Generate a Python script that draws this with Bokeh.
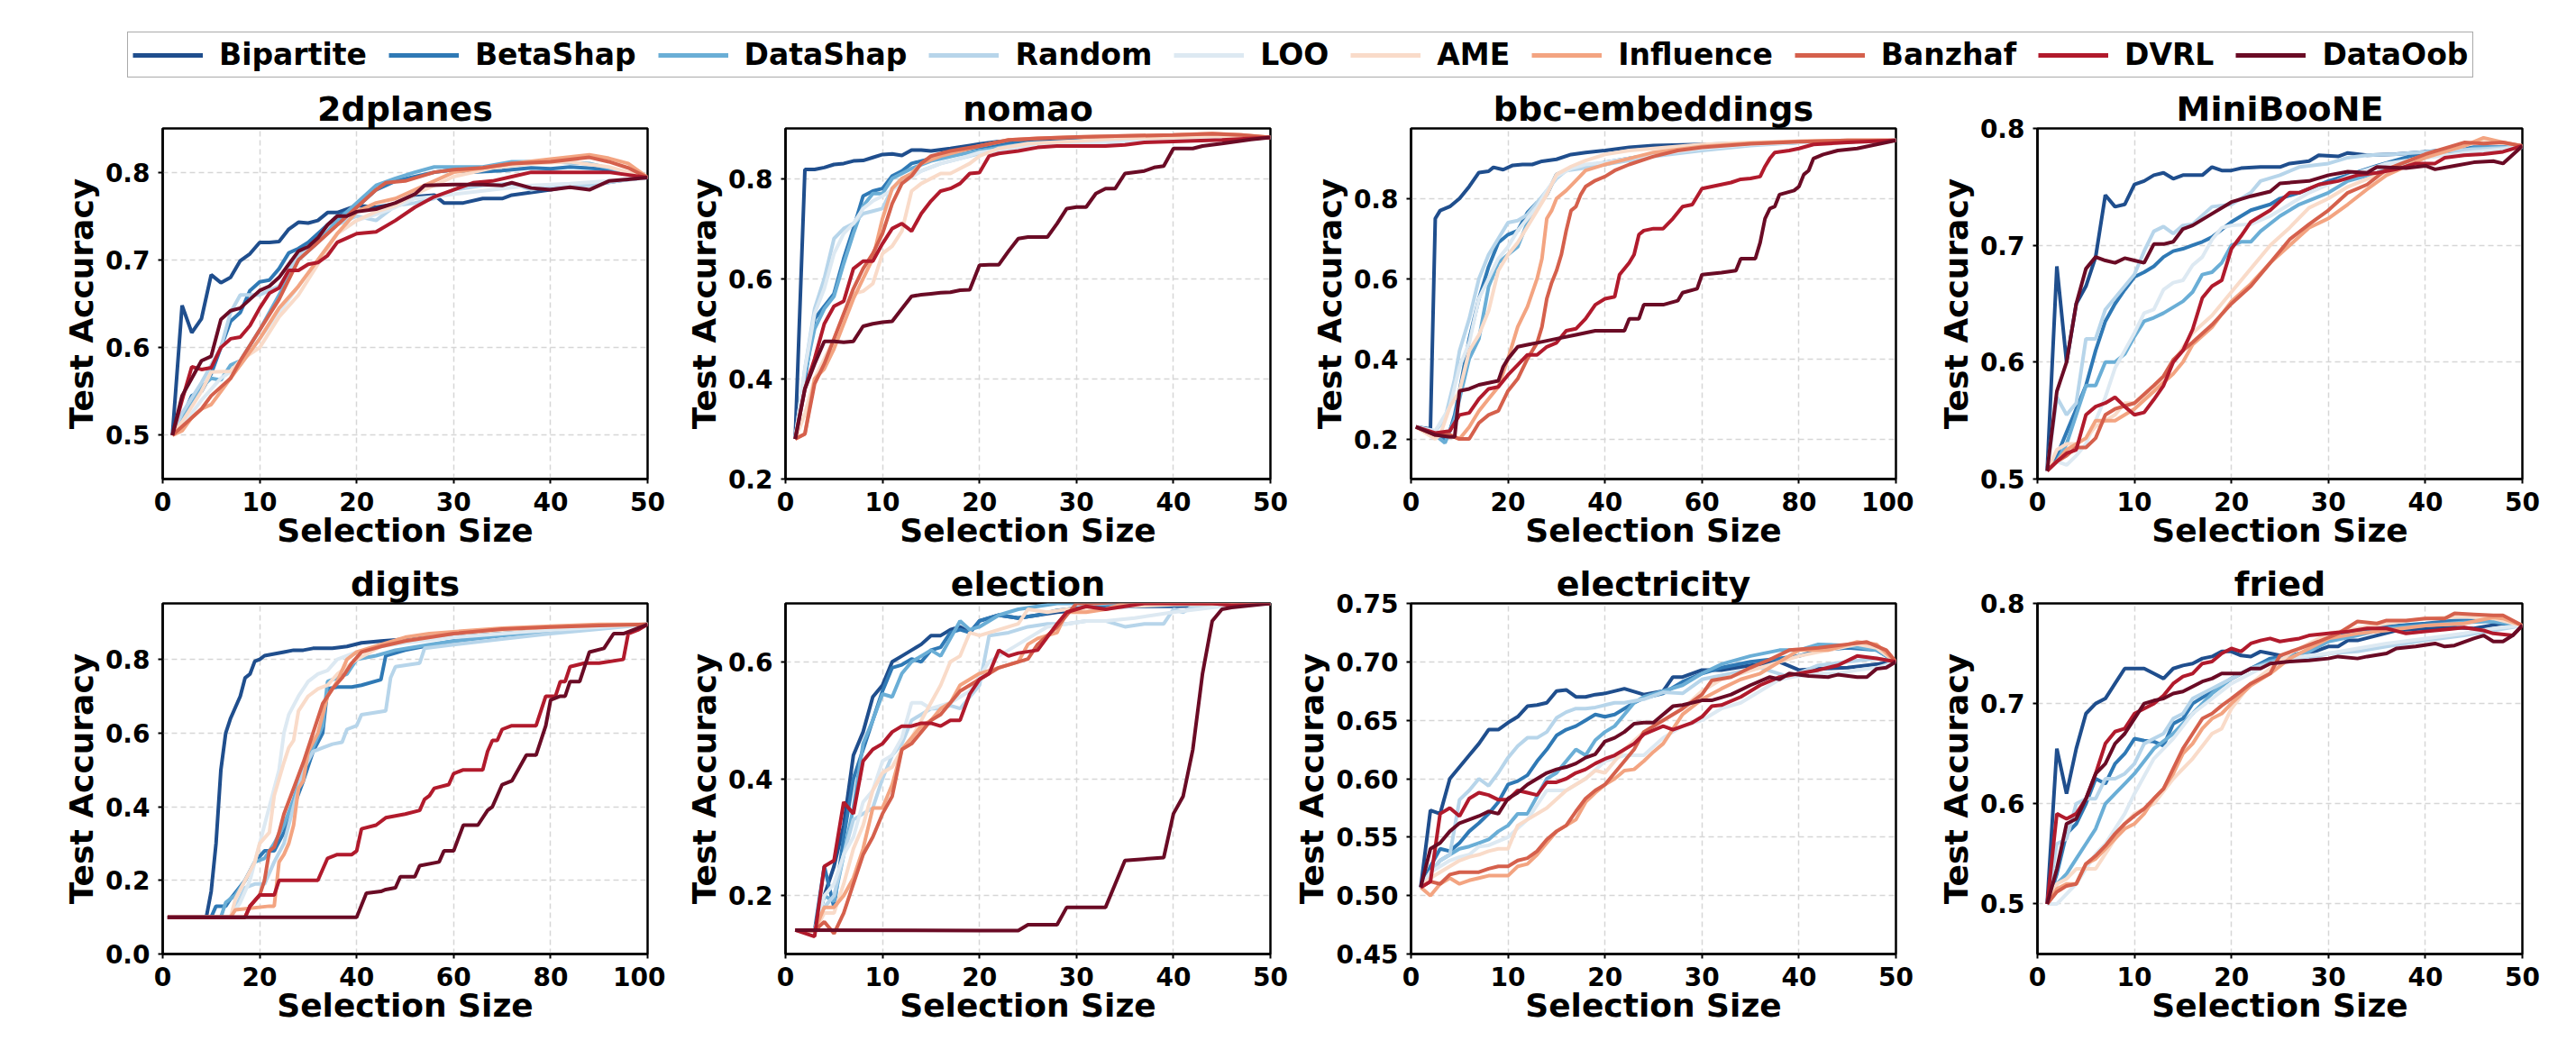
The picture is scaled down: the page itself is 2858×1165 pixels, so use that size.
from bokeh.plotting import figure
from bokeh.models import (Range1d, FixedTicker, PrintfTickFormatter, Legend, LegendItem,
                          Row, Column)
from bokeh.embed import file_html
from bokeh.resources import INLINE

METHODS = ["Bipartite", "BetaShap", "DataShap", "Random", "LOO", "AME",
           "Influence", "Banzhaf", "DVRL", "DataOob"]
COLORS = ["#1f4e8d", "#2f79b5", "#6aaed6", "#b7d5ea", "#dde9f2", "#f9dbc9",
          "#f3a481", "#d5604c", "#b11a2c", "#6a0b25"]

PLANES = {
    "Bipartite": [(1,.50),(2,.648),(3,.617),(4,.633),(5,.683),(6,.674),(7,.68),(8,.699),(9,.707),(10,.72),(11,.72),(12,.721),(13,.735),(14,.743),(15,.742),(16,.745),(17,.754),(18,.754),(20,.762),(22,.76),(24,.764),(26,.772),(28,.774),(29,.765),(31,.765),(33,.77),(35,.77),(36,.774),(38,.777),(40,.78),(42,.784),(45,.787),(48,.792),(50,.794)],
    "BetaShap": [(1,.5),(2,.52),(3,.545),(4,.55),(5,.57),(6,.60),(7,.63),(8,.64),(9,.665),(10,.675),(11,.677),(12,.69),(13,.708),(14,.713),(15,.72),(16,.73),(18,.75),(20,.76),(22,.78),(24,.79),(26,.795),(28,.80),(30,.803),(32,.80),(35,.802),(38,.805),(40,.804),(42,.806),(45,.804),(48,.798),(50,.794)],
    "DataShap": [(1,.5),(2,.52),(3,.535),(4,.555),(5,.565),(6,.563),(7,.58),(8,.585),(10,.62),(12,.66),(14,.70),(16,.72),(18,.745),(20,.765),(22,.785),(24,.793),(26,.80),(28,.806),(30,.806),(33,.806),(36,.812),(40,.812),(44,.81),(47,.802),(50,.794)],
    "Random": [(1,.5),(2,.525),(4,.56),(6,.60),(7,.64),(8,.66),(10,.66),(12,.67),(14,.705),(16,.72),(18,.74),(20,.75),(22,.745),(24,.762),(26,.765),(28,.77),(30,.78),(33,.785),(36,.787),(38,.78),(40,.785),(44,.785),(47,.79),(50,.794)],
    "LOO": [(1,.5),(2,.51),(4,.54),(6,.565),(8,.58),(10,.61),(12,.64),(14,.67),(16,.70),(18,.73),(20,.745),(22,.752),(24,.76),(26,.77),(28,.772),(30,.775),(34,.78),(38,.785),(42,.787),(46,.79),(50,.794)],
    "AME": [(1,.5),(2,.515),(4,.55),(5,.572),(7,.573),(8,.585),(10,.60),(12,.635),(14,.66),(16,.695),(18,.73),(20,.745),(22,.755),(24,.762),(26,.775),(28,.785),(30,.795),(34,.805),(38,.81),(42,.812),(46,.806),(50,.794)],
    "Influence": [(1,.5),(2,.505),(3,.52),(4,.53),(5,.535),(6,.55),(8,.58),(10,.61),(12,.645),(14,.67),(16,.70),(18,.73),(20,.755),(22,.765),(24,.77),(26,.78),(28,.79),(30,.80),(33,.805),(36,.81),(40,.815),(44,.82),(46,.816),(48,.81),(50,.794)],
    "Banzhaf": [(1,.5),(2,.51),(3,.52),(4,.53),(5,.545),(6,.555),(7,.565),(8,.585),(10,.62),(12,.655),(14,.70),(16,.72),(18,.74),(20,.76),(22,.78),(23,.788),(25,.79),(28,.80),(30,.803),(33,.805),(36,.81),(40,.812),(44,.817),(46,.812),(48,.805),(50,.794)],
    "DVRL": [(1,.5),(2,.54),(3,.578),(4,.575),(5,.577),(6,.60),(7,.61),(8,.612),(9,.625),(10,.645),(11,.662),(12,.668),(13,.688),(14,.688),(15,.695),(16,.697),(17,.705),(18,.72),(19,.725),(20,.73),(22,.732),(24,.745),(26,.76),(28,.772),(30,.78),(32,.788),(34,.79),(36,.795),(38,.80),(40,.80),(42,.80),(46,.80),(50,.794)],
    "DataOob": [(1,.5),(2,.545),(3,.565),(4,.585),(5,.59),(6,.632),(7,.642),(8,.645),(9,.655),(10,.665),(11,.67),(12,.68),(13,.695),(14,.71),(15,.715),(16,.725),(17,.74),(18,.75),(19,.75),(20,.755),(22,.758),(24,.765),(26,.775),(27,.785),(30,.786),(33,.786),(35,.785),(36,.788),(38,.782),(40,.78),(42,.783),(44,.78),(46,.79),(48,.792),(50,.794)],
}

NOMAO = {
    "Bipartite": [(1,.28),(2,.818),(3,.818),(4,.822),(5,.828),(6,.83),(7,.835),(8,.836),(9,.842),(10,.848),(11,.849),(12,.846),(13,.857),(14,.857),(15,.855),(17,.86),(19,.866),(20,.869),(22,.874),(25,.876),(30,.877),(35,.877),(40,.878),(45,.879),(50,.882)],
    "BetaShap": [(1,.28),(2,.40),(3,.52),(4,.545),(5,.57),(6,.64),(7,.70),(8,.765),(9,.775),(10,.78),(11,.805),(12,.815),(13,.83),(14,.835),(16,.845),(18,.855),(20,.862),(23,.87),(26,.872),(30,.873),(35,.873),(40,.877),(45,.878),(50,.882)],
    "DataShap": [(1,.28),(2,.41),(3,.50),(4,.54),(5,.565),(6,.63),(7,.69),(8,.745),(9,.77),(10,.77),(11,.80),(12,.81),(13,.82),(15,.835),(18,.848),(20,.855),(23,.865),(26,.87),(30,.873),(35,.875),(40,.877),(45,.879),(50,.882)],
    "Random": [(1,.28),(2,.42),(3,.54),(4,.60),(5,.68),(6,.70),(7,.71),(8,.73),(9,.735),(10,.74),(11,.78),(12,.80),(14,.815),(16,.83),(18,.84),(20,.85),(23,.86),(26,.868),(30,.872),(35,.875),(40,.877),(45,.879),(50,.882)],
    "LOO": [(1,.28),(2,.42),(3,.53),(4,.58),(5,.65),(6,.69),(7,.71),(8,.74),(9,.755),(10,.765),(12,.79),(14,.815),(16,.83),(18,.84),(20,.852),(23,.86),(26,.866),(30,.87),(35,.874),(40,.877),(45,.879),(50,.882)],
    "AME": [(1,.28),(2,.33),(3,.40),(4,.44),(5,.48),(6,.53),(7,.57),(8,.575),(9,.59),(10,.65),(11,.665),(12,.695),(13,.775),(14,.79),(16,.81),(17,.81),(18,.82),(19,.83),(20,.845),(22,.86),(25,.87),(30,.875),(35,.88),(40,.882),(45,.885),(50,.882)],
    "Influence": [(1,.28),(2,.29),(3,.40),(4,.42),(5,.46),(6,.51),(7,.56),(8,.60),(9,.64),(10,.72),(11,.78),(12,.80),(13,.81),(14,.83),(16,.845),(18,.855),(20,.865),(23,.877),(26,.88),(30,.883),(35,.885),(40,.887),(44,.89),(47,.887),(50,.882)],
    "Banzhaf": [(1,.28),(2,.29),(3,.39),(4,.43),(5,.48),(6,.53),(7,.58),(8,.62),(9,.65),(10,.69),(11,.75),(12,.79),(13,.805),(14,.83),(15,.845),(17,.855),(20,.865),(23,.877),(26,.88),(30,.883),(35,.885),(40,.887),(44,.889),(47,.887),(50,.882)],
    "DVRL": [(1,.28),(2,.38),(3,.44),(4,.51),(5,.545),(6,.555),(7,.62),(8,.635),(9,.635),(10,.67),(11,.70),(12,.71),(13,.695),(14,.73),(15,.755),(16,.775),(17,.78),(18,.79),(19,.81),(20,.812),(21,.845),(22,.85),(24,.855),(26,.862),(28,.865),(30,.865),(33,.865),(35,.867),(37,.872),(40,.874),(45,.877),(50,.882)],
    "DataOob": [(1,.28),(2,.38),(3,.43),(4,.475),(5,.475),(6,.473),(7,.475),(8,.505),(9,.51),(10,.513),(11,.515),(12,.54),(13,.565),(14,.568),(15,.57),(16,.572),(17,.573),(18,.577),(19,.578),(20,.627),(21,.628),(22,.628),(23,.655),(24,.68),(25,.683),(27,.683),(28,.71),(29,.74),(30,.743),(31,.743),(32,.77),(33,.78),(34,.78),(35,.81),(37,.815),(38,.822),(39,.825),(40,.86),(42,.86),(43,.865),(45,.87),(48,.878),(50,.882)],
}

BBC = {
    "Bipartite": [(1,.23),(4,.225),(5,.75),(6,.77),(8,.78),(10,.80),(12,.83),(14,.865),(16,.868),(17,.878),(19,.872),(21,.883),(23,.885),(25,.885),(27,.893),(30,.898),(33,.91),(36,.915),(40,.92),(45,.928),(50,.932),(60,.935),(70,.938),(80,.94),(90,.942),(100,.945)],
    "BetaShap": [(1,.23),(4,.22),(6,.21),(7,.195),(8,.22),(9,.26),(10,.32),(12,.45),(14,.55),(16,.63),(18,.69),(20,.71),(22,.72),(24,.765),(26,.79),(28,.81),(30,.86),(32,.87),(35,.88),(40,.89),(45,.90),(50,.91),(60,.93),(70,.938),(80,.94),(90,.942),(100,.945)],
    "DataShap": [(1,.23),(5,.21),(7,.19),(9,.25),(10,.30),(12,.40),(14,.45),(16,.58),(18,.64),(20,.66),(22,.68),(24,.74),(26,.785),(28,.81),(30,.86),(33,.875),(36,.88),(40,.885),(45,.90),(50,.91),(60,.925),(70,.935),(80,.94),(90,.942),(100,.945)],
    "Random": [(1,.23),(5,.22),(7,.25),(9,.35),(10,.42),(12,.50),(14,.60),(16,.66),(18,.70),(20,.74),(22,.745),(24,.76),(26,.79),(28,.82),(30,.85),(32,.87),(35,.875),(40,.885),(45,.895),(50,.905),(60,.92),(70,.932),(80,.94),(90,.942),(100,.945)],
    "LOO": [(1,.23),(5,.22),(8,.28),(10,.38),(12,.44),(14,.55),(16,.60),(18,.65),(20,.68),(22,.72),(24,.75),(26,.78),(28,.82),(30,.855),(33,.875),(36,.885),(40,.89),(45,.90),(50,.91),(60,.925),(70,.935),(80,.94),(90,.942),(100,.945)],
    "AME": [(1,.23),(5,.20),(6,.21),(8,.28),(10,.32),(12,.42),(14,.46),(16,.52),(18,.62),(20,.66),(22,.69),(24,.73),(26,.77),(28,.81),(30,.86),(33,.88),(36,.895),(40,.91),(45,.92),(50,.925),(60,.935),(70,.94),(80,.943),(90,.945),(100,.945)],
    "Influence": [(1,.23),(5,.21),(8,.21),(10,.20),(12,.23),(14,.27),(16,.30),(18,.33),(20,.40),(22,.48),(24,.53),(26,.60),(27,.65),(28,.75),(29,.77),(30,.80),(32,.82),(34,.845),(36,.87),(40,.885),(45,.90),(50,.915),(60,.93),(70,.938),(80,.943),(90,.945),(100,.945)],
    "Banzhaf": [(1,.23),(5,.21),(8,.21),(10,.20),(12,.20),(14,.24),(16,.26),(18,.27),(20,.32),(22,.35),(24,.40),(26,.44),(27,.48),(28,.55),(29,.59),(30,.62),(31,.66),(32,.72),(33,.77),(34,.78),(35,.81),(36,.83),(38,.845),(40,.855),(42,.87),(45,.885),(50,.905),(55,.92),(60,.928),(70,.937),(80,.942),(90,.945),(100,.945)],
    "DVRL": [(1,.23),(5,.215),(8,.22),(10,.26),(12,.265),(14,.30),(16,.325),(18,.33),(20,.36),(22,.385),(24,.41),(26,.41),(28,.43),(30,.44),(32,.47),(34,.475),(36,.50),(38,.535),(40,.55),(42,.555),(43,.61),(45,.64),(46,.66),(47,.71),(48,.72),(50,.725),(52,.725),(54,.75),(56,.78),(58,.785),(60,.825),(62,.83),(64,.835),(66,.84),(68,.848),(70,.85),(72,.855),(73,.88),(74,.90),(75,.915),(78,.92),(80,.925),(83,.935),(90,.94),(100,.945)],
    "DataOob": [(1,.23),(5,.21),(8,.205),(9,.205),(10,.32),(12,.325),(14,.335),(16,.34),(18,.345),(19,.38),(20,.40),(22,.43),(24,.435),(26,.44),(28,.445),(30,.45),(34,.46),(38,.47),(44,.47),(45,.50),(47,.50),(48,.535),(52,.535),(55,.545),(56,.565),(59,.575),(60,.61),(64,.615),(67,.62),(68,.65),(71,.65),(72,.69),(73,.75),(74,.775),(75,.78),(76,.81),(79,.82),(80,.83),(81,.86),(82,.87),(83,.90),(85,.91),(88,.92),(92,.925),(96,.935),(100,.945)],
}

MINIBOONE = {
    "Bipartite": [(1,.507),(2,.682),(3,.60),(4,.65),(5,.665),(6,.69),(7,.743),(8,.733),(9,.735),(10,.752),(11,.755),(12,.76),(13,.762),(14,.757),(15,.76),(16,.76),(17,.76),(18,.767),(19,.764),(20,.764),(21,.766),(23,.767),(25,.767),(26,.77),(28,.772),(29,.777),(31,.776),(32,.779),(34,.777),(37,.778),(40,.78),(45,.782),(50,.784)],
    "BetaShap": [(1,.507),(2,.52),(3,.54),(4,.56),(5,.58),(6,.61),(7,.635),(8,.65),(9,.662),(10,.673),(11,.677),(12,.682),(13,.69),(14,.695),(15,.697),(16,.70),(17,.703),(18,.707),(20,.72),(22,.73),(24,.735),(25,.74),(27,.745),(30,.755),(32,.76),(35,.768),(40,.78),(45,.784),(50,.784)],
    "DataShap": [(1,.507),(2,.515),(3,.53),(4,.555),(5,.58),(6,.58),(7,.60),(8,.60),(9,.607),(10,.622),(11,.635),(12,.638),(13,.642),(14,.647),(15,.652),(16,.66),(17,.675),(18,.677),(19,.685),(20,.70),(21,.703),(22,.703),(23,.712),(25,.725),(27,.735),(30,.745),(32,.755),(35,.762),(40,.775),(45,.783),(50,.784)],
    "Random": [(1,.507),(2,.57),(3,.555),(4,.565),(5,.62),(6,.62),(7,.645),(8,.655),(9,.665),(10,.675),(11,.695),(12,.712),(13,.716),(14,.71),(15,.717),(16,.718),(18,.733),(20,.735),(22,.745),(23,.755),(25,.76),(27,.767),(30,.77),(32,.775),(34,.777),(37,.778),(40,.78),(45,.782),(50,.784)],
    "LOO": [(1,.507),(2,.515),(3,.512),(4,.52),(5,.53),(6,.55),(7,.57),(8,.595),(9,.61),(10,.625),(11,.642),(12,.645),(13,.662),(14,.668),(15,.67),(16,.683),(17,.69),(18,.705),(19,.715),(20,.717),(22,.718),(24,.725),(26,.735),(28,.745),(30,.752),(33,.762),(36,.77),(40,.775),(45,.78),(50,.784)],
    "AME": [(1,.507),(2,.525),(3,.53),(4,.53),(5,.535),(6,.545),(8,.555),(9,.565),(10,.565),(11,.57),(12,.575),(14,.60),(16,.625),(18,.64),(20,.66),(22,.68),(24,.70),(26,.715),(28,.732),(30,.74),(32,.75),(35,.76),(38,.768),(40,.775),(44,.785),(46,.79),(50,.785)],
    "Influence": [(1,.507),(2,.515),(3,.525),(4,.53),(5,.535),(6,.55),(8,.55),(10,.56),(12,.575),(14,.59),(15,.60),(16,.615),(18,.63),(20,.652),(22,.667),(24,.685),(26,.70),(28,.715),(30,.723),(32,.735),(34,.748),(36,.76),(40,.775),(44,.785),(46,.792),(48,.788),(50,.785)],
    "Banzhaf": [(1,.507),(2,.515),(3,.52),(4,.527),(5,.527),(6,.535),(7,.555),(8,.56),(10,.565),(12,.58),(13,.588),(14,.602),(15,.61),(16,.617),(18,.632),(20,.65),(22,.665),(24,.685),(26,.705),(28,.718),(30,.73),(32,.745),(34,.752),(36,.765),(40,.778),(44,.788),(46,.787),(48,.788),(50,.785)],
    "DVRL": [(1,.507),(2,.515),(3,.522),(4,.525),(5,.555),(6,.562),(7,.565),(8,.57),(9,.562),(10,.555),(11,.557),(12,.568),(13,.58),(14,.60),(15,.61),(16,.628),(17,.655),(18,.665),(19,.67),(20,.697),(21,.708),(22,.72),(24,.73),(26,.745),(27,.745),(29,.752),(31,.755),(33,.76),(35,.762),(37,.765),(39,.77),(41,.77),(42,.775),(44,.777),(46,.778),(48,.78),(50,.785)],
    "DataOob": [(1,.507),(2,.575),(3,.60),(4,.65),(5,.68),(6,.69),(7,.687),(8,.685),(9,.689),(10,.687),(11,.685),(12,.701),(13,.701),(14,.703),(15,.714),(16,.717),(18,.727),(20,.737),(22,.742),(24,.746),(25,.753),(28,.755),(30,.76),(32,.763),(34,.762),(35,.767),(38,.766),(40,.768),(41,.765),(43,.768),(45,.771),(47,.772),(48,.77),(50,.785)],
}

DIGITS = {
    "Bipartite": [(1,.10),(9,.10),(10,.17),(11,.30),(12,.50),(13,.60),(14,.64),(15,.67),(16,.70),(17,.75),(18,.76),(19,.795),(20,.80),(21,.81),(23,.815),(25,.82),(27,.825),(29,.825),(31,.83),(35,.83),(38,.835),(41,.845),(45,.85),(50,.855),(60,.865),(70,.875),(80,.885),(90,.89),(100,.895)],
    "BetaShap": [(1,.10),(10,.10),(11,.13),(13,.13),(14,.15),(17,.20),(19,.25),(21,.28),(23,.28),(25,.33),(27,.40),(29,.47),(31,.55),(33,.60),(34,.72),(36,.725),(39,.725),(41,.73),(45,.745),(46,.81),(50,.825),(55,.838),(60,.85),(70,.865),(80,.878),(90,.887),(100,.895)],
    "DataShap": [(1,.10),(12,.10),(13,.14),(15,.16),(17,.20),(19,.25),(21,.26),(23,.30),(25,.35),(27,.42),(29,.50),(31,.56),(33,.62),(34,.74),(36,.75),(38,.76),(40,.80),(44,.81),(48,.825),(55,.84),(60,.85),(70,.865),(80,.878),(90,.887),(100,.895)],
    "Random": [(1,.10),(14,.10),(17,.18),(19,.19),(21,.19),(23,.25),(25,.30),(27,.40),(29,.50),(31,.55),(33,.56),(35,.57),(37,.575),(38,.61),(40,.62),(41,.65),(46,.66),(47,.75),(48,.78),(53,.79),(54,.83),(60,.84),(70,.855),(80,.87),(90,.882),(100,.895)],
    "LOO": [(1,.10),(14,.10),(16,.14),(18,.20),(20,.30),(22,.40),(24,.50),(25,.60),(26,.65),(28,.70),(30,.74),(32,.76),(34,.77),(36,.80),(40,.82),(45,.835),(50,.845),(60,.86),(70,.87),(80,.88),(90,.888),(100,.895)],
    "AME": [(1,.10),(14,.10),(15,.15),(17,.20),(19,.25),(20,.30),(22,.33),(23,.43),(25,.52),(26,.56),(27,.58),(28,.66),(30,.70),(32,.72),(34,.73),(36,.76),(38,.78),(40,.80),(45,.835),(50,.85),(60,.87),(70,.88),(80,.888),(90,.892),(100,.895)],
    "Influence": [(1,.10),(14,.10),(15,.12),(22,.13),(23,.13),(24,.25),(25,.27),(26,.30),(27,.35),(28,.45),(29,.47),(30,.55),(32,.60),(34,.70),(36,.74),(38,.80),(40,.82),(45,.84),(50,.86),(55,.87),(60,.875),(70,.885),(80,.89),(90,.895),(100,.895)],
    "Banzhaf": [(1,.10),(17,.10),(18,.13),(20,.16),(21,.20),(22,.28),(23,.29),(24,.33),(25,.38),(27,.45),(29,.52),(31,.60),(33,.68),(35,.72),(37,.75),(39,.79),(41,.82),(45,.835),(50,.85),(60,.87),(70,.882),(80,.888),(90,.892),(100,.895)],
    "DVRL": [(1,.10),(17,.10),(18,.13),(20,.16),(23,.16),(24,.20),(28,.20),(32,.20),(34,.26),(36,.27),(39,.27),(40,.28),(41,.34),(44,.35),(46,.37),(50,.38),(53,.39),(54,.42),(55,.43),(56,.45),(59,.46),(60,.49),(62,.50),(66,.50),(67,.55),(68,.58),(69,.58),(70,.61),(72,.62),(77,.62),(79,.70),(81,.70),(82,.74),(83,.74),(84,.78),(87,.79),(90,.79),(95,.80),(96,.87),(98,.88),(100,.895)],
    "DataOob": [(1,.10),(40,.10),(42,.165),(45,.17),(46,.175),(48,.18),(49,.21),(52,.21),(53,.24),(57,.25),(58,.28),(60,.28),(62,.35),(65,.35),(67,.39),(68,.40),(70,.46),(72,.47),(75,.54),(77,.54),(79,.62),(80,.69),(82,.70),(83,.70),(84,.74),(86,.74),(88,.82),(91,.83),(93,.87),(95,.87),(100,.895)],
}

ELECTION = {
    "Bipartite": [(1,.141),(3,.14),(4,.20),(5,.25),(6,.32),(7,.44),(8,.48),(9,.54),(10,.56),(11,.60),(12,.61),(13,.62),(14,.63),(15,.645),(16,.645),(17,.655),(18,.66),(19,.65),(20,.67),(22,.68),(24,.675),(26,.68),(28,.685),(30,.688),(33,.693),(36,.695),(40,.695),(45,.697),(50,.70)],
    "BetaShap": [(1,.141),(3,.14),(4,.25),(5,.18),(6,.30),(7,.40),(8,.45),(9,.50),(10,.55),(11,.59),(12,.595),(13,.605),(14,.60),(15,.62),(16,.625),(17,.65),(18,.655),(19,.65),(20,.67),(22,.68),(24,.675),(26,.68),(28,.688),(30,.692),(35,.695),(40,.697),(45,.698),(50,.70)],
    "DataShap": [(1,.141),(3,.14),(4,.20),(5,.19),(6,.27),(7,.35),(8,.46),(9,.50),(10,.545),(11,.54),(12,.58),(13,.60),(14,.61),(15,.62),(16,.61),(17,.64),(18,.67),(19,.655),(20,.66),(22,.68),(24,.69),(26,.695),(28,.70),(30,.70),(35,.70),(40,.70),(50,.70)],
    "Random": [(1,.141),(3,.14),(4,.18),(5,.20),(6,.27),(7,.33),(8,.34),(9,.35),(10,.40),(11,.44),(12,.46),(13,.50),(14,.51),(15,.52),(16,.52),(17,.525),(18,.52),(19,.54),(20,.56),(21,.645),(23,.65),(25,.66),(27,.665),(29,.665),(31,.67),(33,.67),(35,.66),(37,.665),(39,.665),(40,.69),(41,.685),(42,.695),(45,.698),(50,.70)],
    "LOO": [(1,.141),(3,.14),(4,.20),(5,.22),(6,.27),(7,.30),(8,.36),(9,.38),(10,.43),(11,.44),(12,.47),(13,.53),(14,.53),(15,.52),(17,.53),(19,.55),(21,.60),(23,.62),(25,.64),(27,.66),(29,.665),(31,.67),(33,.67),(36,.675),(40,.685),(45,.695),(50,.70)],
    "AME": [(1,.141),(3,.14),(4,.17),(5,.17),(6,.22),(7,.28),(8,.32),(9,.38),(10,.41),(11,.42),(12,.45),(13,.47),(14,.50),(15,.53),(16,.56),(17,.60),(18,.61),(19,.65),(20,.645),(22,.655),(24,.665),(25,.69),(27,.685),(29,.69),(31,.69),(33,.69),(35,.695),(40,.698),(50,.70)],
    "Influence": [(1,.141),(3,.14),(4,.18),(5,.18),(6,.20),(7,.23),(8,.28),(9,.35),(10,.35),(11,.39),(12,.45),(13,.47),(14,.49),(15,.50),(16,.52),(17,.53),(18,.56),(19,.57),(20,.58),(22,.59),(24,.60),(25,.63),(26,.64),(28,.65),(29,.685),(31,.685),(33,.69),(35,.70),(40,.70),(50,.70)],
    "Banzhaf": [(1,.141),(3,.14),(4,.155),(5,.135),(6,.17),(7,.22),(8,.27),(9,.30),(10,.34),(11,.37),(12,.45),(13,.46),(14,.48),(15,.50),(16,.51),(17,.53),(18,.55),(19,.56),(20,.57),(22,.59),(24,.60),(25,.605),(26,.63),(28,.66),(30,.70),(32,.70),(35,.703),(40,.70),(45,.70),(50,.70)],
    "DVRL": [(1,.141),(3,.13),(4,.25),(5,.26),(6,.36),(7,.34),(8,.43),(9,.45),(10,.46),(11,.48),(12,.49),(13,.49),(14,.495),(15,.495),(16,.49),(17,.50),(18,.50),(19,.545),(20,.57),(21,.58),(22,.62),(23,.61),(24,.615),(26,.62),(28,.665),(29,.685),(31,.695),(33,.69),(35,.695),(37,.70),(40,.70),(44,.70),(46,.697),(50,.70)],
    "DataOob": [(1,.141),(20,.14),(24,.14),(25,.15),(28,.15),(29,.18),(33,.18),(34,.22),(35,.26),(39,.265),(40,.34),(41,.37),(42,.45),(43,.58),(44,.67),(45,.69),(46,.693),(50,.70)],
}

ELECTRICITY = {
    "Bipartite": [(1,.507),(2,.573),(3,.57),(4,.60),(5,.61),(6,.62),(7,.63),(8,.642),(9,.642),(10,.648),(11,.653),(12,.662),(13,.663),(14,.665),(15,.675),(16,.676),(17,.67),(18,.67),(19,.672),(20,.673),(22,.677),(24,.672),(26,.675),(27,.687),(28,.687),(30,.693),(32,.693),(35,.697),(38,.70),(40,.693),(42,.694),(45,.695),(48,.698),(50,.70)],
    "BetaShap": [(1,.507),(2,.525),(3,.54),(4,.538),(5,.545),(6,.555),(7,.562),(8,.57),(9,.58),(10,.595),(11,.598),(12,.603),(13,.615),(14,.625),(15,.637),(16,.642),(17,.645),(18,.65),(19,.655),(20,.653),(21,.655),(22,.66),(23,.665),(24,.669),(26,.673),(28,.683),(30,.69),(32,.695),(35,.70),(38,.703),(40,.705),(42,.71),(45,.712),(48,.71),(50,.70)],
    "DataShap": [(1,.507),(2,.52),(3,.53),(4,.535),(5,.54),(6,.542),(7,.545),(8,.548),(9,.555),(10,.56),(11,.57),(12,.57),(13,.585),(14,.60),(15,.605),(16,.615),(17,.625),(18,.62),(19,.633),(20,.64),(21,.645),(22,.655),(23,.665),(24,.67),(26,.675),(28,.68),(30,.69),(32,.698),(35,.705),(38,.71),(40,.71),(42,.715),(45,.714),(48,.71),(50,.70)],
    "Random": [(1,.507),(2,.52),(3,.53),(4,.535),(5,.582),(6,.59),(7,.60),(8,.594),(9,.605),(10,.618),(11,.628),(12,.635),(13,.635),(14,.64),(15,.652),(16,.657),(17,.66),(18,.66),(19,.661),(20,.663),(21,.665),(22,.665),(24,.668),(26,.674),(28,.673),(30,.685),(33,.69),(36,.695),(39,.687),(42,.697),(45,.70),(48,.703),(50,.70)],
    "LOO": [(1,.507),(2,.52),(3,.525),(4,.53),(5,.533),(6,.535),(7,.542),(8,.543),(10,.55),(12,.565),(14,.59),(16,.59),(18,.60),(20,.615),(22,.62),(24,.62),(26,.635),(28,.645),(30,.65),(32,.66),(34,.665),(36,.675),(38,.685),(40,.688),(42,.69),(44,.69),(46,.693),(48,.695),(50,.70)],
    "AME": [(1,.507),(2,.515),(3,.52),(4,.525),(5,.53),(6,.533),(7,.535),(8,.538),(9,.54),(10,.54),(11,.56),(12,.565),(14,.575),(16,.59),(18,.60),(19,.607),(20,.605),(22,.625),(24,.64),(26,.65),(28,.66),(30,.675),(32,.685),(34,.69),(36,.695),(38,.70),(40,.705),(43,.71),(46,.715),(48,.712),(50,.70)],
    "Influence": [(1,.507),(2,.50),(3,.51),(4,.515),(5,.51),(6,.513),(7,.515),(8,.517),(9,.517),(10,.517),(11,.525),(12,.527),(13,.535),(14,.545),(15,.555),(16,.56),(17,.565),(18,.58),(19,.588),(20,.595),(21,.60),(22,.607),(23,.608),(24,.615),(25,.623),(26,.63),(28,.655),(30,.668),(32,.677),(34,.685),(36,.69),(38,.70),(40,.71),(43,.71),(46,.717),(48,.715),(50,.70)],
    "Banzhaf": [(1,.507),(2,.512),(3,.51),(4,.518),(5,.52),(6,.52),(7,.52),(8,.523),(9,.525),(10,.525),(11,.53),(12,.532),(13,.538),(14,.548),(15,.555),(16,.56),(17,.572),(18,.583),(19,.59),(20,.595),(21,.605),(22,.615),(23,.625),(24,.64),(26,.65),(28,.66),(30,.672),(31,.684),(33,.687),(35,.695),(37,.702),(39,.71),(42,.712),(45,.715),(47,.717),(49,.71),(50,.70)],
    "DVRL": [(1,.507),(2,.512),(3,.57),(4,.575),(5,.568),(6,.583),(7,.588),(8,.586),(9,.582),(10,.582),(11,.59),(12,.588),(13,.586),(14,.597),(15,.597),(16,.60),(17,.605),(18,.608),(19,.613),(20,.617),(21,.62),(22,.625),(23,.63),(24,.638),(26,.645),(27,.642),(29,.648),(30,.653),(31,.662),(32,.663),(34,.67),(36,.68),(38,.687),(40,.69),(42,.693),(44,.697),(46,.705),(48,.703),(50,.70)],
    "DataOob": [(1,.507),(2,.54),(3,.545),(4,.555),(5,.562),(6,.565),(7,.568),(8,.572),(9,.57),(10,.583),(11,.588),(12,.595),(13,.60),(14,.605),(15,.608),(16,.61),(17,.613),(18,.618),(19,.621),(20,.632),(21,.635),(22,.64),(23,.647),(24,.648),(25,.648),(27,.662),(28,.663),(30,.667),(31,.667),(33,.672),(35,.68),(37,.687),(38,.685),(39,.69),(41,.688),(43,.687),(44,.689),(46,.687),(47,.687),(48,.694),(49,.695),(50,.70)],
}

FRIED = {
    "Bipartite": [(1,.50),(2,.655),(3,.61),(4,.655),(5,.69),(6,.70),(7,.705),(8,.72),(9,.735),(10,.735),(11,.735),(12,.73),(13,.725),(14,.735),(15,.738),(16,.74),(17,.745),(18,.747),(19,.752),(20,.752),(21,.748),(22,.747),(23,.752),(24,.75),(25,.748),(27,.748),(28,.75),(30,.757),(31,.757),(32,.763),(33,.763),(35,.768),(37,.773),(40,.775),(43,.776),(45,.775),(48,.78),(50,.778)],
    "BetaShap": [(1,.50),(2,.53),(3,.57),(4,.58),(5,.60),(6,.625),(7,.62),(8,.64),(9,.65),(10,.665),(11,.663),(12,.662),(13,.658),(14,.68),(15,.685),(16,.70),(18,.712),(20,.725),(22,.735),(24,.745),(26,.748),(28,.752),(30,.765),(33,.772),(36,.777),(40,.78),(43,.783),(46,.783),(48,.78),(50,.778)],
    "DataShap": [(1,.50),(2,.52),(3,.53),(4,.545),(5,.56),(6,.575),(7,.60),(8,.61),(9,.62),(10,.63),(12,.655),(14,.67),(16,.69),(18,.71),(20,.725),(22,.735),(24,.742),(26,.747),(28,.752),(30,.762),(33,.768),(36,.775),(40,.778),(44,.781),(47,.782),(50,.778)],
    "Random": [(1,.50),(2,.56),(3,.565),(4,.60),(5,.605),(6,.605),(7,.625),(8,.625),(9,.63),(10,.64),(11,.66),(12,.665),(13,.67),(14,.685),(15,.69),(16,.705),(18,.715),(20,.725),(22,.735),(24,.74),(26,.742),(28,.745),(30,.75),(33,.752),(36,.757),(40,.763),(44,.768),(47,.773),(50,.778)],
    "LOO": [(1,.50),(2,.50),(3,.51),(4,.52),(5,.535),(6,.55),(7,.56),(8,.575),(9,.59),(10,.61),(12,.645),(14,.665),(16,.69),(18,.705),(20,.72),(22,.73),(24,.74),(26,.745),(28,.748),(30,.75),(33,.755),(36,.76),(40,.765),(44,.77),(47,.775),(50,.778)],
    "AME": [(1,.50),(2,.52),(3,.525),(4,.535),(5,.535),(6,.535),(7,.55),(8,.565),(9,.58),(10,.59),(12,.60),(14,.625),(16,.645),(18,.67),(19,.675),(20,.695),(22,.72),(24,.735),(26,.75),(28,.76),(30,.77),(33,.775),(36,.78),(40,.785),(44,.787),(47,.785),(50,.778)],
    "Influence": [(1,.50),(2,.515),(3,.52),(4,.52),(5,.54),(6,.545),(7,.555),(8,.565),(9,.575),(10,.58),(11,.59),(12,.605),(13,.615),(14,.63),(15,.65),(16,.66),(17,.675),(18,.685),(19,.69),(20,.70),(22,.718),(24,.73),(26,.745),(28,.755),(30,.765),(33,.77),(36,.773),(40,.778),(44,.78),(47,.786),(48,.785),(50,.778)],
    "Banzhaf": [(1,.50),(2,.512),(3,.518),(4,.52),(5,.54),(6,.548),(7,.558),(8,.57),(9,.58),(10,.588),(11,.595),(12,.605),(13,.615),(14,.635),(15,.655),(16,.67),(17,.685),(18,.69),(19,.698),(20,.705),(22,.72),(24,.73),(25,.748),(27,.755),(29,.762),(31,.77),(33,.782),(35,.78),(36,.783),(38,.783),(40,.785),(42,.785),(43,.79),(45,.789),(47,.788),(48,.788),(50,.778)],
    "DVRL": [(1,.50),(2,.59),(3,.585),(4,.59),(5,.605),(6,.63),(7,.66),(8,.672),(9,.675),(10,.69),(11,.695),(12,.70),(13,.708),(14,.72),(15,.727),(16,.73),(17,.74),(18,.742),(19,.75),(20,.755),(21,.752),(22,.76),(23,.763),(24,.765),(25,.762),(27,.765),(28,.768),(30,.77),(32,.772),(34,.775),(36,.775),(38,.77),(40,.772),(42,.774),(44,.776),(46,.773),(47,.77),(49,.768),(50,.778)],
    "DataOob": [(1,.50),(2,.535),(3,.58),(4,.585),(5,.605),(6,.63),(7,.64),(8,.66),(9,.67),(10,.685),(11,.70),(12,.703),(13,.705),(14,.71),(15,.712),(16,.717),(17,.722),(18,.725),(19,.73),(20,.73),(21,.73),(22,.735),(23,.735),(24,.74),(26,.742),(28,.743),(30,.745),(31,.747),(33,.745),(34,.747),(36,.75),(37,.755),(39,.757),(41,.76),(42,.757),(43,.758),(45,.765),(46,.768),(47,.762),(48,.762),(49,.768),(50,.778)],
}

TITLES = ["2dplanes", "nomao", "bbc-embeddings", "MiniBooNE",
          "digits", "election", "electricity", "fried"]
DATASETS = [PLANES, NOMAO, BBC, MINIBOONE, DIGITS, ELECTION, ELECTRICITY, FRIED]
X_MAX = [50, 50, 100, 50, 100, 50, 50, 50]
Y_LIMITS = [(0.45, 0.85), (0.2, 0.9), (0.1, 0.975), (0.5, 0.8),
            (0.0, 0.952), (0.1, 0.7), (0.45, 0.75), (0.45, 0.8)]
Y_TICKS = [[0.5, 0.6, 0.7, 0.8], [0.2, 0.4, 0.6, 0.8], [0.2, 0.4, 0.6, 0.8],
           [0.5, 0.6, 0.7, 0.8], [0.0, 0.2, 0.4, 0.6, 0.8], [0.2, 0.4, 0.6],
           [0.45, 0.50, 0.55, 0.60, 0.65, 0.70, 0.75], [0.5, 0.6, 0.7, 0.8]]
Y_FMT = ["%.1f", "%.1f", "%.1f", "%.1f", "%.1f", "%.1f", "%.2f", "%.1f"]
X_LABEL = "Selection Size"
Y_LABEL = "Test Accuracy"

FONT = "DejaVu Sans"
FRAME_W, FRAME_H = 538, 389
LEFT_B = [180, 133, 136, 137]
RIGHT_B = [20, 20, 20, 24]
TOP_B = [56, 48]
BOTTOM_B = [90, 90]
LEGEND_H = 86


def make_panel(i):
    r, c = divmod(i, 4)
    top, bottom = TOP_B[r], BOTTOM_B[r]
    w = LEFT_B[c] + FRAME_W + RIGHT_B[c]
    h = top + FRAME_H + bottom
    xmax = X_MAX[i]
    ylo, yhi = Y_LIMITS[i]
    p = figure(width=w, height=h, x_range=Range1d(0, xmax), y_range=Range1d(ylo, yhi),
               output_backend="svg", toolbar_location=None, tools="",
               min_border_left=LEFT_B[c], min_border_right=RIGHT_B[c],
               min_border_top=top, min_border_bottom=bottom, title=TITLES[i])
    p.title.align = "center"
    p.title.text_font = FONT
    p.title.text_font_size = "38px"
    p.title.text_font_style = "bold"
    p.title.text_color = "black"
    p.title.text_line_height = 1.0
    p.title.standoff = 0
    p.background_fill_color = "white"
    p.border_fill_color = "white"
    p.outline_line_color = "black"
    p.outline_line_width = 2.5

    step = 10 if xmax == 50 else 20
    p.xaxis.ticker = FixedTicker(ticks=list(range(0, xmax + 1, step)))
    p.yaxis.ticker = FixedTicker(ticks=Y_TICKS[i])
    p.yaxis.formatter = PrintfTickFormatter(format=Y_FMT[i])
    p.xaxis.axis_label = X_LABEL
    p.yaxis.axis_label = Y_LABEL
    for ax in (p.xaxis, p.yaxis):
        ax.axis_line_color = "black"
        ax.axis_line_width = 2.5
        ax.major_tick_out = 5
        ax.major_tick_in = 0
        ax.major_tick_line_width = 2
        ax.minor_tick_line_color = None
        ax.major_label_text_font = FONT
        ax.major_label_text_font_size = "28px"
        ax.major_label_text_font_style = "bold"
        ax.major_label_text_color = "black"
        ax.major_label_text_line_height = 1.0
        ax.axis_label_text_font = FONT
        ax.axis_label_text_font_size = "36px"
        ax.axis_label_text_font_style = "bold"
        ax.axis_label_text_color = "black"
        ax.axis_label_text_line_height = 1.0
    p.xaxis.major_label_standoff = 9
    p.xaxis.axis_label_standoff = -2
    p.yaxis.major_label_standoff = 9
    p.yaxis.axis_label_standoff = 3
    p.grid.grid_line_color = "#d6d6d6"
    p.grid.grid_line_dash = "6 4"
    p.grid.grid_line_width = 1.5

    data = DATASETS[i]
    for m, col in zip(METHODS, COLORS):
        pts = data[m]
        xs = [pt[0] for pt in pts]
        ys = [pt[1] for pt in pts]
        p.line(xs, ys, line_color=col, line_width=4)
    return p


panels = [make_panel(i) for i in range(8)]

total_w = sum(LEFT_B) + 4 * FRAME_W + sum(RIGHT_B)
leg = figure(width=total_w, height=LEGEND_H, x_range=Range1d(0, 1), y_range=Range1d(0, 1),
             output_backend="svg", toolbar_location=None, tools="", min_border=0,
             x_axis_type=None, y_axis_type=None)
leg.outline_line_color = None
leg.background_fill_color = "white"
leg.border_fill_color = "white"
items = []
nan = float("nan")
for m, col in zip(METHODS, COLORS):
    rr = leg.line(x=[nan, nan], y=[nan, nan], line_color=col, line_width=5)
    items.append(LegendItem(label=m, renderers=[rr]))
legend = Legend(items=items, orientation="horizontal", location=(141, 0),
                glyph_width=78, glyph_height=20, label_standoff=18, spacing=24,
                padding=5, margin=0, label_text_font=FONT, label_text_font_size="33px",
                label_text_font_style="bold", label_text_color="black",
                border_line_color="#555555", border_line_width=1.5,
                background_fill_color="white", background_fill_alpha=1.0)
leg.add_layout(legend)

row1 = Row(children=panels[:4], spacing=0)
row2 = Row(children=panels[4:], spacing=0)
layout = Column(children=[leg, row1, row2], spacing=0)

open("out.html", "w").write(file_html(layout, INLINE))
